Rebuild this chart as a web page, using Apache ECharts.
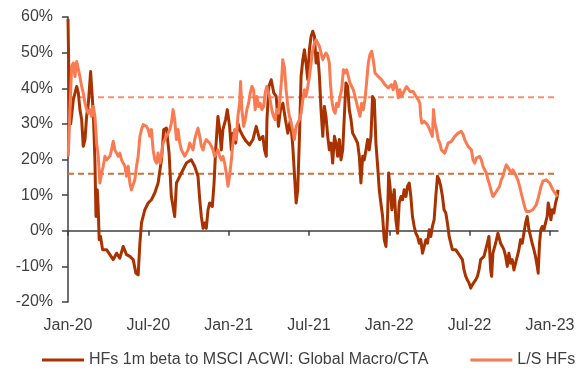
<!DOCTYPE html>
<html>
<head>
<meta charset="utf-8">
<script src="https://cdn.jsdelivr.net/npm/echarts@6/dist/echarts.min.js"></script>
<style>
html,body{margin:0;padding:0;background:#fff;}
#chart{width:587px;height:379px;}
</style>
</head>
<body>
<div id="chart"></div>
<script>
// x positions are months since Jan-2020
var tickLabels = ['Jan-20','Jul-20','Jan-21','Jul-21','Jan-22','Jul-22','Jan-23'];
var tickMonths = [0,6,12,18,24,30,36];

var macroMonths = [0,0.1,0.2,0.4,0.65,0.77,0.89,1.02,1.14,1.27,1.39,1.52,1.69,1.79,1.89,2.01,2.09,2.19,2.26,2.33,2.43,2.58,2.88,3.13,3.38,3.63,3.87,4.12,4.37,4.62,4.87,5.07,5.24,5.37,5.49,5.74,5.99,6.23,6.48,6.73,6.98,7.15,7.35,7.55,7.72,7.97,8.1,8.35,8.72,
8.84,9.21,9.46,9.71,9.84,9.96,10.09,10.21,10.33,10.46,10.58,10.78,10.91,11.03,11.2,11.33,11.45,11.57,11.77,11.9,12.07,12.2,12.32,12.52,12.69,12.82,13.07,13.31,13.56,13.81,14.06,14.31,14.56,14.68,14.81,14.86,15.0,15.18,15.37,15.55,15.72,15.87,16.05,16.24,16.42,16.62,16.79,16.91,17.04,17.16,17.29,17.41,
17.54,17.66,17.78,17.91,18.03,18.16,18.28,18.41,18.53,18.65,18.78,18.9,19.03,19.15,19.27,19.4,19.52,19.65,19.77,19.9,20.02,20.14,20.27,20.39,20.52,20.64,20.76,20.89,21.01,21.14,21.26,21.39,21.51,21.63,21.76,21.88,22.01,22.13,22.26,22.38,22.5,22.63,22.75,22.88,23.0,23.13,23.25,23.37,23.5,23.62,23.75,23.87,23.95,24.05,24.19,24.37,24.49,24.62,24.74,24.87,24.99,25.11,25.24,25.36,25.49,25.61,25.73,25.86,25.98,26.11,26.23,26.35,26.48,
26.61,26.73,26.85,26.98,27.1,27.22,27.35,27.47,27.6,27.72,27.84,27.97,28.09,28.22,28.34,28.47,28.59,28.71,28.96,29.21,29.33,29.46,29.58,29.71,29.83,29.96,30.08,30.2,30.33,30.45,30.58,30.7,30.82,30.95,31.07,31.2,31.32,31.44,31.57,31.64,31.74,31.94,32.11,32.31,32.44,32.56,32.69,32.81,32.93,33.06,33.18,33.31,33.43,33.56,33.68,33.8,33.93,34.05,34.18,34.3,34.43,34.55,34.67,34.8,34.92,35.05,35.12,35.22,35.32,35.42,35.55,35.67,35.79,35.87,35.97,36.07,36.17,36.29,36.42,36.54,36.6];
var macroValues = [59.5,35,30,36.8,40.5,38.7,34.0,31.2,23.7,25.6,32.1,35.8,44.7,38.7,33.0,19.9,4.0,11.5,5.9,-2.5,-1.6,-5.3,-5.3,-6.7,-8.1,-6.3,-7.7,-4.4,-6.7,-7.2,-8.1,-11.9,-12.4,-3.5,2.2,5.9,7.8,8.7,10.6,13.4,19.9,28.4,28.8,21.8,9.6,4.0,13.4,15.3,18.1,
19.0,19.9,18.1,15.3,8.7,4.0,0.7,2.2,0.7,5.9,7.8,6.8,13.4,22.7,32.1,28.4,22.7,28.4,31.2,34.0,29.3,22.7,27.4,24.6,30.2,28.4,26.5,25.1,24.1,25.6,29.3,25.6,26.5,22.7,20.9,31.2,40.5,42.4,38.7,37.7,29.3,34.0,35.8,31.2,27.4,31.2,23.7,16.2,7.8,11.5,26.5,43.3,
48.0,50.8,47.1,42.4,50.8,54.6,56.0,54.6,47.1,49.9,43.3,34.0,26.5,34.9,32.1,26.5,22.7,24.6,19.0,26.5,24.6,20.9,25.6,19.9,22.7,32.1,41.5,40.5,34.0,31.2,27.4,26.5,25.6,24.6,20.9,13.4,20.9,19.9,22.7,25.6,22.7,26.5,37.7,36.8,24.6,18.1,11.5,7.8,4.0,-2.5,-4.4,4.0,16.2,12.5,5.9,11.5,3.1,-0.7,7.8,9.6,8.7,11.5,9.6,12.5,13.4,9.6,4.0,1.2,-0.7,-1.6,-3.5,-2.5,-6.3,
-4.4,-2.5,-3.5,0.3,-1.6,1.2,3.1,9.6,15.3,14.3,12.5,9.6,5.9,5.0,2.2,-1.6,-3.5,-5.3,-5.3,-6.7,-6.3,-8.1,-11.0,-12.8,-13.8,-14.7,-16.1,-15.2,-15.6,-13.8,-12.8,-11.0,-8.1,-8.1,-7.2,-5.3,-3.5,-1.6,-11.0,-12.8,-6.3,-3.5,-0.7,-3.5,-4.4,-5.3,-7.2,-10.0,-6.3,-9.1,-8.1,-11.0,-9.1,-7.2,-5.3,-2.5,-3.5,-0.7,2.2,4.0,0.3,-1.6,-3.5,-5.3,-7.2,-10.0,-11.9,-3.5,0.3,1.2,0.3,2.2,4.0,7.8,5.9,3.1,5.9,5.0,7.8,9.6,11.5];

var lsMonths = [0.02,0.15,0.27,0.4,0.52,0.65,0.77,0.89,1.02,1.14,1.27,1.39,1.52,1.64,1.76,1.89,2.01,2.14,2.26,2.38,2.51,2.63,2.76,2.88,3.13,3.25,3.38,3.5,3.63,3.75,3.87,4.0,4.12,4.25,4.37,4.5,4.62,4.74,4.87,4.99,5.12,5.24,5.37,5.49,5.61,5.74,5.86,5.99,6.11,6.23,6.36,6.48,6.61,6.73,6.86,6.98,7.1,7.23,7.35,7.48,7.6,7.72,7.85,7.97,8.1,8.22,8.35,8.47,8.72,
8.84,8.97,9.09,9.21,9.34,9.46,9.59,9.71,9.84,9.96,10.09,10.21,10.33,10.46,10.58,10.71,10.83,10.95,11.08,11.2,11.33,11.45,11.57,11.7,11.82,11.95,12.07,12.2,12.32,12.45,12.57,12.69,12.82,12.89,12.99,13.12,13.24,13.36,13.49,13.61,13.74,13.86,13.98,14.11,14.23,14.36,14.48,14.61,14.73,14.85,14.98,15.1,15.22,15.35,15.47,15.6,15.72,15.85,15.97,16.04,16.17,16.29,16.42,16.54,16.67,16.79,16.91,17.04,17.16,17.29,17.41,
17.54,17.66,17.78,17.91,18.03,18.16,18.28,18.41,18.53,18.65,18.78,18.9,19.03,19.15,19.27,19.4,19.52,19.6,19.7,19.82,19.95,20.07,20.19,20.32,20.44,20.57,20.69,20.81,20.94,21.06,21.19,21.31,21.44,21.56,21.68,21.81,21.93,22.06,22.18,22.3,22.43,22.55,22.68,22.8,22.93,23.05,23.17,23.3,23.42,23.55,23.67,23.8,23.92,24.05,24.17,24.29,24.42,24.54,24.67,24.79,24.92,25.04,25.16,25.29,25.41,25.54,25.66,25.78,25.91,26.03,26.16,26.28,26.35,26.43,
26.6,26.73,26.85,26.97,27.1,27.22,27.3,27.4,27.52,27.65,27.77,27.89,28.02,28.14,28.27,28.39,28.51,28.64,28.76,28.89,29.01,29.14,29.26,29.38,29.51,29.63,29.76,29.88,30.01,30.13,30.25,30.38,30.5,30.63,30.75,30.87,31.0,31.12,31.25,31.37,31.49,31.62,31.74,31.87,31.99,32.11,32.24,32.36,32.49,32.61,32.74,32.86,32.98,33.11,33.23,33.36,33.48,33.6,33.73,33.85,33.98,34.1,34.23,34.35,34.47,34.6,34.72,34.85,34.97,35.09,35.22,35.34,35.47,35.59,35.72,35.84,35.97,36.09,36.21,36.34,36.46,36.58];
var lsValues = [20.9,34.0,46.1,47.1,43.3,47.5,47.1,43.3,40.5,38.7,35.8,34.0,33.0,34.0,32.1,34.9,32.1,24.6,20.9,13.4,16.2,18.1,20.9,19.9,20.9,22.7,25.1,22.7,21.8,20.9,21.8,19.9,19.0,18.1,15.3,18.1,13.4,11.5,11.5,14.3,18.1,20.9,26.5,28.4,29.8,30.2,29.3,28.4,26.5,28.4,22.7,19.9,19.0,21.8,19.0,20.9,24.6,25.6,26.5,27.4,28.4,30.2,34.0,31.2,25.6,28.4,24.6,22.7,20.9,
20.9,22.7,24.6,23.7,22.7,25.6,27.4,28.8,26.5,23.7,22.7,24.6,25.6,25.1,24.6,23.7,22.7,20.9,21.8,22.7,20.9,19.9,20.9,19.0,16.2,12.5,15.3,19.9,24.6,28.4,25.6,32.1,35.8,41.9,34.0,29.3,31.2,34.0,35.8,38.7,40.5,39.6,34.0,37.7,34.9,35.8,34.0,34.9,38.7,40.5,38.7,36.8,34.0,32.1,31.2,34.0,33.0,37.7,43.3,48.0,45.7,39.6,34.9,32.1,30.2,28.4,25.6,29.3,30.2,31.2,33.0,
36.8,39.6,37.7,40.5,43.3,47.1,50.8,52.7,53.6,52.7,51.8,49.9,48.0,49.0,49.9,49.0,47.1,41.5,36.8,34.0,33.0,35.8,34.9,37.7,39.6,45.2,44.3,45.2,43.3,41.5,40.5,39.6,37.7,35.8,34.0,32.1,35.8,34.0,36.8,41.5,47.1,49.4,50.4,48.0,44.3,44.3,43.3,43.8,42.4,41.9,41.0,40.5,40.1,39.6,41.0,39.6,41.9,40.5,37.3,39.6,37.7,38.2,39.6,40.5,40.1,39.1,39.6,39.1,38.2,37.7,36.8,35.8,32.1,30.2,
30.7,30.2,29.8,28.8,29.3,26.5,34.0,30.2,28.4,25.6,24.6,22.7,22.3,21.8,23.2,24.6,24.1,25.1,25.6,26.5,26.0,27.4,27.0,27.9,27.0,25.6,24.6,23.7,24.1,22.7,19.9,19.0,20.4,19.9,20.9,19.9,18.1,17.1,16.2,14.3,12.9,11.0,9.6,10.1,11.0,11.5,12.5,14.3,15.3,17.1,18.5,18.1,17.1,16.2,17.1,16.2,15.3,14.3,12.5,10.6,8.7,6.8,5.4,5.0,5.4,5.4,5.9,6.4,7.3,8.7,10.6,12.5,13.9,14.3,14.3,13.9,13.4,12.5,11.5,11.0,10.1,9.6];

var upperRef = 37.5;   // dashed reference, L/S HFs
var lowerRef = 16;     // dashed reference, Global Macro/CTA
var refSpan = [0, 36.3];

function zip(xs, ys){ return xs.map(function(x,i){ return [x, ys[i]]; }); }

var chart = echarts.init(document.getElementById('chart'), null, {renderer:'canvas'});
var font = 'Liberation Sans, Arial, sans-serif';
chart.setOption({
  animation:false,
  grid:{left:68, right:29, top:17, bottom:77, containLabel:false, outerBoundsMode:'none'},
  xAxis:{
    type:'value', min:0, max:36.6, interval:6,
    axisLine:{onZero:true, lineStyle:{color:'#404040', width:1.5}},
    axisTick:{show:true, length:5, customValues:tickMonths, lineStyle:{color:'#404040', width:1.5}},
    axisLabel:{margin:16, customValues:tickMonths, color:'#404040', fontSize:16, fontFamily:font,
      formatter:function(v){ var i = tickMonths.indexOf(Math.round(v)); return i>=0 ? tickLabels[i] : ''; }},
    splitLine:{show:false}
  },
  yAxis:{
    type:'value', min:-20, max:60, interval:10,
    axisLine:{show:true, onZero:false, lineStyle:{color:'#404040', width:1.5}},
    axisTick:{show:true, length:6, lineStyle:{color:'#404040', width:1.5}},
    axisLabel:{margin:15, color:'#404040', fontSize:16, fontFamily:font, formatter:'{value}%'},
    splitLine:{show:false}
  },
  legend:{
    data:['HFs 1m beta to MSCI ACWI: Global Macro/CTA','L/S HFs'],
    left:37, top:347, icon:'rect', itemWidth:42, itemHeight:3, itemGap:42,
    textStyle:{color:'#404040', fontSize:16, fontFamily:font}
  },
  series:[
    {name:'lowerRef', type:'line', data:[[refSpan[0],lowerRef],[refSpan[1],lowerRef]], showSymbol:false, silent:true,
     lineStyle:{color:'#D0703A', width:2, type:[6,4]}},
    {name:'upperRef', type:'line', data:[[refSpan[0],upperRef],[refSpan[1],upperRef]], showSymbol:false, silent:true,
     lineStyle:{color:'#F99070', width:2, type:[6,4]}},
    {name:'HFs 1m beta to MSCI ACWI: Global Macro/CTA', type:'line', data:zip(macroMonths, macroValues), showSymbol:false,
     itemStyle:{color:'#A83300'}, lineStyle:{color:'#A83300', width:3, join:'round'}},
    {name:'L/S HFs', type:'line', data:zip(lsMonths, lsValues), showSymbol:false,
     itemStyle:{color:'#FA7B52'}, lineStyle:{color:'#FA7B52', width:3, join:'round'}}
  ]
});
</script>
</body>
</html>
